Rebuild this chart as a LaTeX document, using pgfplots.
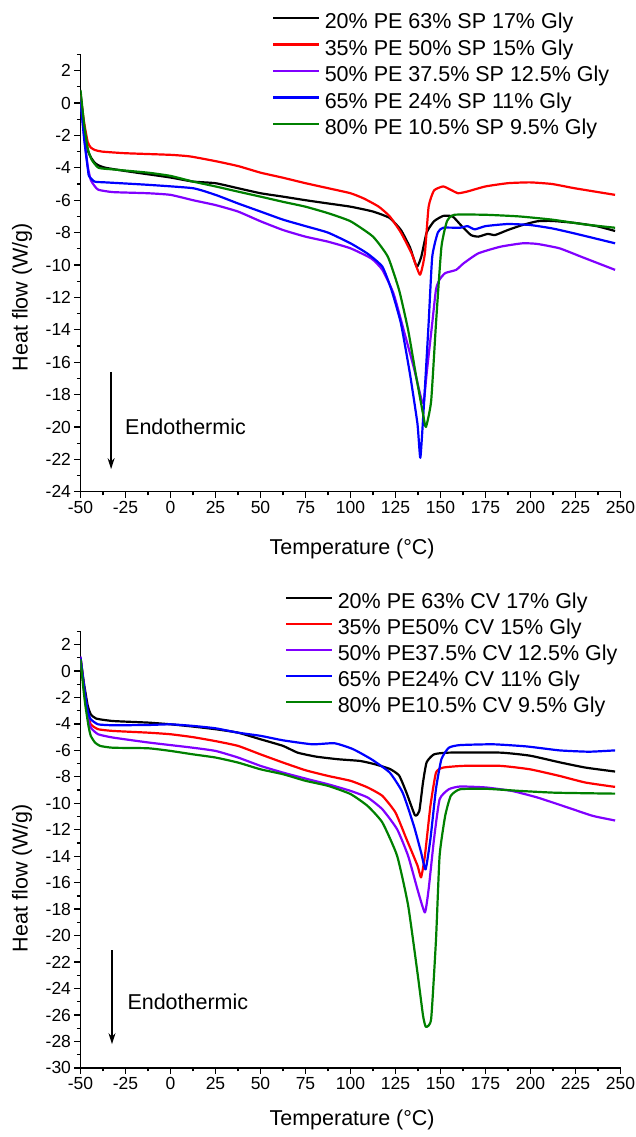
\documentclass[border=0pt]{standalone}
\usepackage{fontspec}
\setmainfont{Liberation Sans}
\usepackage{pgfplots}
\pgfplotsset{compat=1.18}
\usetikzlibrary{arrows.meta}
\definecolor{cpurple}{RGB}{128,0,255}
\definecolor{cgreen}{RGB}{0,128,0}
\definecolor{cred}{RGB}{255,0,0}
\definecolor{cblue}{RGB}{0,0,255}
\newcommand{\lblfont}{\fontsize{21.5}{21.5}\selectfont}
\pgfplotsset{
 dsc/.style={
  scale only axis, width=540pt,
  xmin=-50, xmax=250,
  axis x line*=bottom, axis y line*=left,
  axis line style={line width=1.3pt},
  xtick={-50,-25,...,250}, minor xtick={-37.5,-12.5,...,237.5},
  tick align=outside, major tick length=6pt, minor tick length=3.5pt,
  every tick/.style={line width=1.3pt, black},
  tick label style={font=\fontsize{17.5}{17.5}\selectfont},
  /pgf/number format/assume math mode=true,
  xlabel={Temperature (°C)}, ylabel={Heat flow (W/g)},
  legend style={draw=none, fill=none, font=\lblfont, anchor=north west, inner sep=0pt,
     nodes={inner sep=0pt, text height=15.5pt, text depth=4.5pt},
     /tikz/every odd column/.append style={column sep=4pt}},
  legend cell align=left,
  legend image code/.code={\draw[#1, line width=2.6pt] (0pt,5.5pt) -- (46pt,5.5pt);},
  every axis plot/.append style={line width=2.2pt, line join=round, smooth, tension=0.3},
 }
}
\begin{document}
\begin{tikzpicture}
\useasboundingbox (0pt,0pt) rectangle (636pt,-1137pt);
% ---------------- top panel ----------------
\begin{axis}[dsc, at={(80.5pt,-491.8pt)}, anchor=south west, height=437.4pt,
  ymin=-24, ymax=3, ytick={-24,-22,...,2}, minor ytick={-23,-21,...,3},
  every axis y label/.style={at={(axis description cs:-0.108,0.445)}, rotate=90, anchor=center, font=\lblfont},
  every axis x label/.style={at={(axis description cs:0.503,-0.131)}, anchor=center, font=\lblfont},
  legend style={at={(axis description cs:0.3546,1.0942)}, /tikz/row sep=6.5pt}]
\addplot[black] coordinates {(-50,0.6) (-48,-1.5) (-46,-2.9) (-44,-3.4) (-42,-3.7) (-40,-3.85) (-36,-4.0) (-25,-4.2) (-12.5,-4.4) (0,-4.6) (12.5,-4.85) (25,-4.95) (37.5,-5.26) (50,-5.57) (62.5,-5.78) (75,-6.0) (87.5,-6.2) (100,-6.4) (112.5,-6.7) (121.8,-7.1) (128,-7.84) (133,-8.9) (136.8,-10.1) (139.3,-9.5) (142.3,-8.0) (146.4,-7.3) (151.5,-6.97) (156.7,-7.0) (161.8,-7.6) (166.9,-8.15) (171,-8.25) (176.2,-8.08) (180.3,-8.15) (187.4,-7.84) (195.6,-7.53) (203.8,-7.3) (212,-7.28) (224.4,-7.4) (236.7,-7.6) (247,-7.9)};
\addlegendentry{20\% PE 63\% SP 17\% Gly}
\addplot[cred] coordinates {(-50,0.5) (-48,-1.2) (-46,-2.4) (-44.3,-2.75) (-42,-2.9) (-38,-3.0) (-25,-3.1) (0,-3.2) (11,-3.3) (25.5,-3.6) (37.8,-3.9) (50,-4.3) (62,-4.6) (75,-4.95) (87.6,-5.26) (100,-5.57) (107.5,-5.9) (115.7,-6.4) (121.8,-7.0) (128,-8.0) (134,-9.3) (138.6,-10.6) (141.3,-9.3) (143.4,-6.4) (146.4,-5.4) (151.5,-5.15) (155.7,-5.36) (159.8,-5.57) (165,-5.46) (175,-5.15) (187.4,-4.95) (199.7,-4.9) (212,-5.0) (224.4,-5.26) (247,-5.67)};
\addlegendentry{35\% PE 50\% SP 15\% Gly}
\addplot[cpurple] coordinates {(-50,0.4) (-48,-2.0) (-46,-3.9) (-44.3,-4.75) (-42,-5.15) (-40,-5.36) (-32,-5.5) (-12.5,-5.57) (0,-5.67) (12.5,-6.0) (25,-6.3) (37.5,-6.7) (50,-7.3) (62.5,-7.84) (75,-8.25) (87.5,-8.56) (100,-8.97) (111.6,-9.6) (117.7,-10.3) (123.9,-11.76) (130,-14.2) (135.1,-16.3) (139.2,-18.2) (140.7,-18.5) (142.3,-16.7) (145.4,-13.6) (147.5,-11.5) (149.5,-10.9) (152.6,-10.5) (158.7,-10.3) (162.8,-9.9) (171,-9.28) (183.3,-8.87) (195.6,-8.66) (203.8,-8.7) (216.1,-8.97) (228.4,-9.5) (247,-10.3)};
\addlegendentry{50\% PE 37.5\% SP 12.5\% Gly}
\addplot[cblue] coordinates {(-50,0.2) (-48,-2.2) (-46,-4.0) (-45.3,-4.5) (-42.2,-4.85) (-36,-4.9) (-12.5,-5.05) (12.5,-5.26) (25,-5.67) (37.5,-6.2) (50,-6.7) (62.5,-7.2) (75,-7.6) (87.5,-8.0) (100,-8.66) (109.5,-9.3) (117.7,-10.1) (122.8,-11.55) (128,-13.6) (133,-16.7) (137.2,-19.8) (138.8,-21.9) (140.7,-18.8) (143.4,-13.6) (145.4,-9.5) (148.5,-8.0) (151.5,-7.7) (160.8,-7.7) (165,-7.6) (169,-7.8) (175,-7.6) (187.4,-7.47) (199.7,-7.53) (212,-7.74) (224.4,-8.05) (247,-8.66)};
\addlegendentry{65\% PE 24\% SP 11\% Gly}
\addplot[cgreen] coordinates {(-50,0.8) (-48,-1.3) (-46,-2.8) (-43.8,-3.5) (-40,-4.0) (-32,-4.1) (-12.5,-4.3) (0,-4.5) (12.5,-4.85) (25,-5.15) (37.5,-5.47) (50,-5.78) (62.5,-6.1) (75,-6.4) (87.5,-6.8) (100,-7.3) (112.5,-8.25) (120.8,-9.5) (127,-11.55) (132,-14.0) (136.2,-16.7) (140.3,-19.2) (141.9,-20.0) (144.8,-18.4) (147.5,-13.6) (150.5,-8.9) (153.6,-7.3) (157.7,-6.9) (175,-6.9) (193.6,-7.0) (212,-7.2) (230.5,-7.5) (247,-7.7)};
\addlegendentry{80\% PE 10.5\% SP 9.5\% Gly}
\draw[-{Stealth[length=11pt,width=7pt]}, line width=1.3pt] (axis cs:-33,-16.6) -- (axis cs:-33,-22.6);
\node[anchor=west, inner sep=0pt, font=\lblfont] at (axis cs:-25.3,-20) {Endothermic};
\end{axis}
% ---------------- bottom panel ----------------
\begin{axis}[dsc, at={(80.5pt,-1067.9pt)}, anchor=south west, height=436.6pt,
  ymin=-30, ymax=3, ytick={-30,-28,...,2}, minor ytick={-29,-27,...,3},
  every axis y label/.style={at={(axis description cs:-0.108,0.435)}, rotate=90, anchor=center, font=\lblfont},
  every axis x label/.style={at={(axis description cs:0.503,-0.119)}, anchor=center, font=\lblfont},
  legend style={at={(axis description cs:0.3787,1.0873)}, /tikz/row sep=6pt}]
\addplot[black] coordinates {(-50,1.0) (-48,-1.0) (-46,-2.6) (-44.3,-3.27) (-41.2,-3.6) (-32,-3.78) (-12.5,-3.9) (0,-4.03) (12.5,-4.2) (25,-4.4) (37.5,-4.66) (50,-5.16) (62.5,-5.66) (70.6,-6.17) (80.8,-6.47) (93.1,-6.67) (105.4,-6.8) (113.6,-7.05) (121.8,-7.4) (127,-7.9) (131.1,-9.2) (135.8,-10.9) (138.2,-10.6) (140.3,-8.4) (142.3,-6.9) (146.4,-6.3) (154.6,-6.17) (183.3,-6.17) (199.7,-6.4) (216.1,-6.9) (230.5,-7.3) (247,-7.6)};
\addlegendentry{20\% PE 63\% CV 17\% Gly}
\addplot[cred] coordinates {(-50,1.0) (-48,-1.3) (-46,-3.2) (-44.3,-4.03) (-40.2,-4.4) (-32,-4.53) (-12.5,-4.66) (0,-4.78) (12.5,-5.0) (25,-5.3) (37.5,-5.66) (50,-6.3) (62.5,-6.92) (75,-7.5) (87.5,-7.93) (100,-8.3) (109.5,-8.8) (117.7,-9.44) (125,-10.7) (131.1,-12.7) (137.2,-14.7) (139.2,-15.6) (141.3,-14.0) (144.4,-10.2) (147.5,-7.68) (151.5,-7.3) (162.8,-7.17) (183.3,-7.17) (199.7,-7.43) (216.1,-7.93) (230.5,-8.43) (247,-8.76)};
\addlegendentry{35\% PE50\% CV 15\% Gly}
\addplot[cpurple] coordinates {(-50,1.1) (-48,-1.4) (-46,-3.4) (-44.3,-4.28) (-40.2,-4.78) (-32,-5.03) (-12.5,-5.4) (0,-5.6) (12.5,-5.8) (25,-6.04) (37.5,-6.54) (50,-7.17) (62.5,-7.68) (75,-8.13) (87.5,-8.56) (100,-9.06) (109.5,-9.56) (117.7,-10.45) (125.9,-11.96) (132,-13.97) (137.2,-16.5) (141.3,-18.25) (143.4,-16.5) (146.4,-12.7) (149.5,-9.7) (154.6,-8.94) (160.8,-8.73) (175,-8.8) (189.5,-9.06) (203.8,-9.56) (220.3,-10.3) (234.6,-10.95) (247,-11.3)};
\addlegendentry{50\% PE37.5\% CV 12.5\% Gly}
\addplot[cblue] coordinates {(-50,1.0) (-48,-1.2) (-46,-3.0) (-44.3,-3.65) (-40.2,-4.03) (-32,-4.1) (-12.5,-4.08) (0,-4.03) (12.5,-4.15) (25,-4.33) (37.5,-4.66) (50,-4.9) (62.5,-5.24) (78.8,-5.54) (91.1,-5.46) (101.3,-5.9) (111.6,-6.67) (121.8,-7.68) (129,-9.2) (135.2,-11.7) (139.2,-13.7) (141.7,-15.0) (144.4,-12.7) (147.5,-8.9) (150.5,-6.67) (154.6,-5.8) (160.8,-5.6) (179.3,-5.54) (197.7,-5.7) (216.1,-6.0) (232.5,-6.1) (247,-6.0)};
\addlegendentry{65\% PE24\% CV 11\% Gly}
\addplot[cgreen] coordinates {(-50,0.9) (-48.5,-1.2) (-47.3,-2.6) (-45.5,-4.2) (-44.3,-4.9) (-42,-5.4) (-39.1,-5.66) (-32,-5.8) (-12.5,-5.84) (0,-6.04) (12.5,-6.3) (25,-6.54) (37.5,-6.92) (50,-7.43) (62.5,-7.8) (75,-8.3) (87.5,-8.68) (100,-9.3) (109.5,-10.2) (117.7,-11.45) (125.9,-13.97) (132,-17.7) (137.2,-22.8) (140.3,-26.05) (141.9,-26.9) (144.8,-26.3) (147.5,-20.3) (149.5,-13.97) (152.6,-10.95) (155.7,-9.44) (160.8,-8.94) (175,-8.9) (193.6,-9.06) (214,-9.2) (247,-9.27)};
\addlegendentry{80\% PE10.5\% CV 9.5\% Gly}
\draw[-{Stealth[length=11pt,width=7pt]}, line width=1.3pt] (axis cs:-32.5,-21.1) -- (axis cs:-32.5,-28.2);
\node[anchor=west, inner sep=0pt, font=\lblfont] at (axis cs:-24,-25) {Endothermic};
\end{axis}
\end{tikzpicture}
\end{document}
